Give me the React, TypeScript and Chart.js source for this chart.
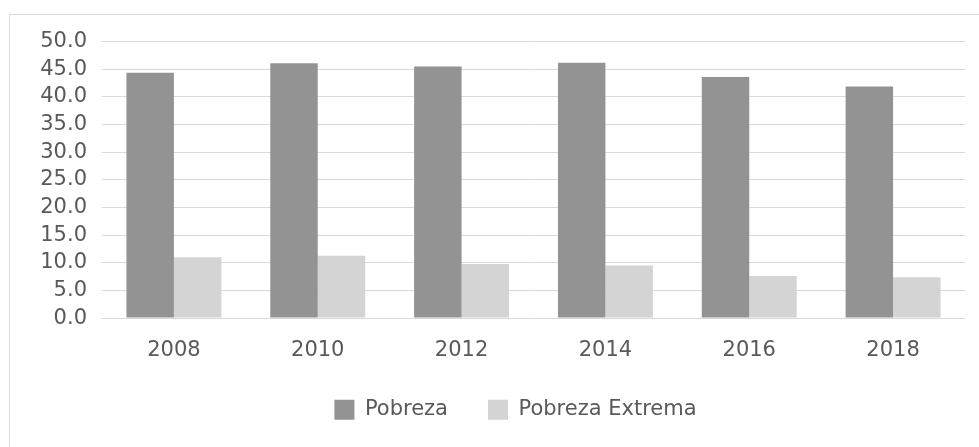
import React, { useEffect, useRef } from "react";
import { Chart, registerables } from "chart.js";

Chart.register(...registerables);

const categories = ["2008", "2010", "2012", "2014", "2016", "2018"];
const pobreza = [44.4, 46.1, 45.5, 46.2, 43.6, 41.9];
const pobrezaExtrema = [11.0, 11.3, 9.8, 9.5, 7.6, 7.4];
const seriesNames = ["Pobreza", "Pobreza Extrema"];

const FONT = "'DejaVu Sans', sans-serif";
const TEXT = "#595959";

export default function App() {
  const ref = useRef<HTMLCanvasElement | null>(null);

  useEffect(() => {
    if (!ref.current) return;
    const shiftLegend = {
      id: "shiftLegend",
      afterLayout(chart: any) {
        const lg = chart.legend;
        if (lg) {
          lg.left += 33;
          lg.right += 33;
        }
      },
    };
    const chart = new Chart(ref.current, {
      type: "bar",
      data: {
        labels: categories,
        datasets: [
          {
            label: seriesNames[0],
            data: pobreza,
            backgroundColor: "#939393",
            borderWidth: 0,
          },
          {
            label: seriesNames[1],
            data: pobrezaExtrema,
            backgroundColor: "#d4d4d4",
            borderWidth: 0,
          },
        ],
      },
      options: {
        responsive: false,
        animation: false,
        layout: { padding: { left: 0, right: 14, top: 41.7, bottom: 16.7 } },
        datasets: { bar: { categoryPercentage: 0.66, barPercentage: 1 } },
        scales: {
          x: {
            grid: { display: false, drawTicks: false },
            border: { display: false },
            ticks: { color: TEXT, font: { family: FONT, size: 21 }, padding: 20 },
            afterFit: (s: any) => {
              s.height = 41.2;
            },
          },
          y: {
            min: 0,
            max: 50,
            grid: { color: "#d9d9d9", lineWidth: 1, drawTicks: false },
            border: { display: false },
            ticks: {
              stepSize: 5,
              autoSkip: false,
              maxTicksLimit: 20,
              color: TEXT,
              font: { family: FONT, size: 21 },
              padding: 15,
              callback: (v: any) => Number(v).toFixed(1),
            },
            afterFit: (s: any) => {
              s.width = 102;
            },
          },
        },
        plugins: {
          legend: {
            position: "bottom",
            labels: {
              boxWidth: 20,
              boxHeight: 20,
              padding: 40,
              color: TEXT,
              font: { family: FONT, size: 21 },
            },
          },
          tooltip: { enabled: false },
        },
      },
      plugins: [shiftLegend],
    });
    return () => chart.destroy();
  }, []);

  return (
    <div
      style={{
        position: "fixed",
        left: 0,
        top: 0,
        width: 979,
        height: 447,
        overflow: "hidden",
        background: "#ffffff",
      }}
    >
      <div
        style={{
          position: "absolute",
          left: 9,
          top: 14,
          width: 1000,
          height: 500,
          border: "1px solid #d9d9d9",
        }}
      />
      <canvas
        ref={ref}
        width={979}
        height={447}
        style={{ position: "absolute", left: 0, top: 0, width: 979, height: 447 }}
      />
    </div>
  );
}
